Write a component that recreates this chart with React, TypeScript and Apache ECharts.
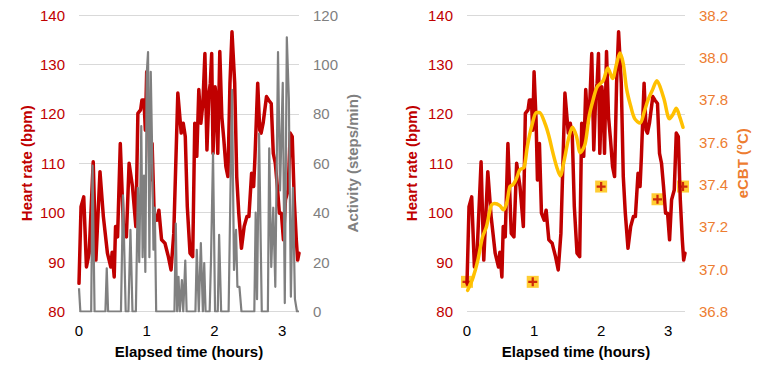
import React, { useEffect, useRef } from "react";
import * as echarts from "echarts";

// Heart rate (bpm) over elapsed time (hours)
const hrTime = [0, 0.03, 0.07, 0.11, 0.15, 0.21, 0.25, 0.31, 0.36, 0.42, 0.47, 0.49, 0.52, 0.54, 0.57, 0.61, 0.66, 0.70, 0.74, 0.79, 0.84, 0.87, 0.91, 0.93, 0.96, 0.98, 1.00, 1.03, 1.05, 1.08, 1.11, 1.15, 1.18, 1.22, 1.27, 1.32, 1.36, 1.40, 1.46, 1.51, 1.54, 1.57, 1.60, 1.64, 1.68, 1.71, 1.74, 1.77, 1.80, 1.83, 1.86, 1.89, 1.92, 1.94, 1.96, 1.98, 2.01, 2.03, 2.05, 2.08, 2.11, 2.14, 2.17, 2.20, 2.23, 2.26, 2.30, 2.33, 2.36, 2.40, 2.44, 2.48, 2.51, 2.55, 2.58, 2.60, 2.64, 2.67, 2.69, 2.72, 2.77, 2.80, 2.84, 2.87, 2.90, 2.93, 2.96, 2.99, 3.02, 3.05, 3.09, 3.12, 3.15, 3.18, 3.21, 3.23, 3.25];
const hrBpm = [85.7, 101.2, 103.2, 89, 91.8, 110.3, 90.4, 108.3, 99.2, 91.8, 89, 92, 87, 97.2, 95.1, 114, 95.8, 95.1, 110, 105.3, 97.2, 120.1, 120.8, 122.8, 122.8, 116.7, 128.5, 118.7, 106.6, 114, 99.9, 98.5, 100.5, 94.5, 93.8, 91.1, 88.4, 95.8, 124.2, 116.1, 118.1, 115.4, 101.2, 91.8, 91.1, 118.1, 111.4, 124.9, 118.1, 122.1, 132.2, 112.7, 124.2, 126.2, 132.2, 112, 125.5, 122.8, 112, 132.6, 119.4, 114.7, 109.3, 107.3, 126.2, 136.6, 126.2, 107.3, 99.9, 92.8, 97.2, 99.2, 99.2, 108, 105.3, 111.4, 126.2, 116.7, 116.1, 118.1, 123.5, 122.8, 122.1, 112, 110, 105.3, 99.9, 99.9, 94.5, 102.6, 104.6, 116.1, 115.4, 102.6, 94.5, 90.4, 91.8];

// Activity (steps/min)
const actTime = [0, 0.02, 0.18, 0.20, 0.23, 0.39, 0.41, 0.43, 0.62, 0.65, 0.69, 0.73, 0.76, 0.79, 0.84, 0.87, 0.89, 0.92, 0.94, 0.96, 0.98, 1.00, 1.02, 1.04, 1.06, 1.08, 1.10, 1.12, 1.14, 1.41, 1.43, 1.45, 1.47, 1.49, 1.52, 1.54, 1.57, 1.59, 1.72, 1.74, 1.77, 1.80, 1.83, 1.85, 1.87, 1.93, 1.95, 1.98, 2.01, 2.05, 2.07, 2.10, 2.21, 2.23, 2.26, 2.29, 2.32, 2.34, 2.37, 2.40, 2.59, 2.61, 2.63, 2.66, 2.70, 2.79, 2.81, 2.84, 2.87, 2.90, 2.94, 2.97, 3.01, 3.04, 3.07, 3.10, 3.13, 3.16, 3.19, 3.22, 3.25];
const actSteps = [9.4, 0, 0, 59, 0, 0, 17.5, 0, 0, 47, 0, 0, 33, 0, 0, 50, 20, 75, 22, 55, 16, 96, 105, 22, 97, 66, 25, 42, 0, 0, 35.6, 0, 14, 0, 12.7, 0, 20.6, 0, 0, 25, 0, 27.7, 0, 19.6, 0, 0, 21, 64, 0, 0, 31, 0, 0, 35.6, 89.7, 16.8, 33, 10, 10, 0, 0, 40, 5, 72, 0, 0, 66, 18, 42, 10, 105, 49, 92.5, 3.4, 111, 86, 6, 50, 5, 0, 0];

// Estimated core body temperature (°C)
const cbtTime = [0.01, 0.09, 0.16, 0.23, 0.29, 0.36, 0.41, 0.49, 0.54, 0.59, 0.64, 0.69, 0.74, 0.79, 0.85, 0.90, 0.96, 1.04, 1.08, 1.16, 1.22, 1.28, 1.34, 1.39, 1.44, 1.51, 1.57, 1.63, 1.69, 1.76, 1.82, 1.88, 1.94, 2.03, 2.10, 2.17, 2.23, 2.28, 2.33, 2.38, 2.44, 2.50, 2.58, 2.64, 2.70, 2.77, 2.83, 2.88, 2.94, 3.02, 3.07, 3.12, 3.17, 3.22];
const cbtTemp = [36.90, 36.96, 37.04, 37.15, 37.20, 37.30, 37.31, 37.30, 37.28, 37.31, 37.39, 37.40, 37.43, 37.47, 37.48, 37.58, 37.67, 37.74, 37.74, 37.69, 37.63, 37.55, 37.48, 37.44, 37.50, 37.61, 37.67, 37.63, 37.55, 37.59, 37.72, 37.80, 37.86, 37.89, 37.95, 37.90, 37.97, 38.02, 37.97, 37.85, 37.77, 37.71, 37.69, 37.74, 37.80, 37.85, 37.89, 37.86, 37.80, 37.71, 37.73, 37.76, 37.72, 37.67];

// Measured reference temperatures (°C)
const refTime = [0, 0.98, 2.0, 2.84, 3.22];
const refTemp = [36.94, 36.94, 37.39, 37.33, 37.39];

const zip = (xs: number[], ys: number[]) => xs.map((x, i) => [x, ys[i]]);

const RED = "#C00000";
const GRAY = "#808080";
const YELLOW = "#FFC000";
const ORANGE = "#ED7D31";
const GRID = "#D9D9D9";
const FONT = "Liberation Sans, Arial, sans-serif";
const PLUS = "path://M3,0H5V3H8V5H5V8H3V5H0V3H3Z";

const xAxisBase = (gridIndex: number) => ({
  type: "value" as const,
  gridIndex,
  min: 0,
  max: 3.25,
  interval: 1,
  name: "Elapsed time (hours)",
  nameLocation: "middle" as const,
  nameGap: 32,
  nameTextStyle: { fontFamily: FONT, fontSize: 15, fontWeight: "bold", color: "#000" },
  axisLine: { show: false },
  axisTick: { show: false },
  splitLine: { show: false },
  axisLabel: {
    fontFamily: FONT,
    fontSize: 15,
    color: "#000",
    margin: 11,
    showMaxLabel: false,
    formatter: (v: number) => (Number.isInteger(v) ? String(v) : ""),
  },
});

const hrAxis = (gridIndex: number, nameGap: number) => ({
  type: "value" as const,
  gridIndex,
  position: "left" as const,
  min: 80,
  max: 140,
  interval: 10,
  name: "Heart rate (bpm)",
  nameLocation: "middle" as const,
  nameGap,
  nameTextStyle: { fontFamily: FONT, fontSize: 15, fontWeight: "bold", color: RED },
  axisLine: { show: false },
  axisTick: { show: false },
  splitLine: { show: true, lineStyle: { color: GRID, width: 1 } },
  axisLabel: { fontFamily: FONT, fontSize: 15, color: RED, margin: 14 },
});

export default function App() {
  const ref = useRef<HTMLDivElement>(null);

  useEffect(() => {
    if (!ref.current) return;
    const chart = echarts.init(ref.current, undefined, { renderer: "svg" });
    chart.setOption({
      animation: false,
      backgroundColor: "#fff",
      grid: [
        { left: 79, top: 15, width: 220, height: 296.5 },
        { left: 467, top: 15, width: 218, height: 296.5 },
      ],
      xAxis: [xAxisBase(0), xAxisBase(1)],
      yAxis: [
        hrAxis(0, 45),
        {
          type: "value",
          gridIndex: 0,
          position: "right",
          min: 0,
          max: 120,
          interval: 20,
          name: "Activity (steps/min)",
          nameLocation: "middle",
          nameGap: 46,
          nameTextStyle: { fontFamily: FONT, fontSize: 15, fontWeight: "bold", color: GRAY },
          axisLine: { show: false },
          axisTick: { show: false },
          splitLine: { show: false },
          axisLabel: { fontFamily: FONT, fontSize: 15, color: GRAY, margin: 14 },
        },
        hrAxis(1, 48),
        {
          type: "value",
          gridIndex: 1,
          position: "right",
          min: 36.8,
          max: 38.2,
          interval: 0.2,
          name: "eCBT (°C)",
          nameLocation: "middle",
          nameGap: 50,
          nameTextStyle: { fontFamily: FONT, fontSize: 15, fontWeight: "bold", color: ORANGE },
          axisLine: { show: false },
          axisTick: { show: false },
          splitLine: { show: false },
          axisLabel: {
            fontFamily: FONT,
            fontSize: 15,
            color: ORANGE,
            margin: 14,
            formatter: (v: number) => v.toFixed(1),
          },
        },
      ],
      series: [
        {
          type: "line",
          xAxisIndex: 0,
          yAxisIndex: 0,
          data: zip(hrTime, hrBpm),
          showSymbol: false,
          lineStyle: { color: RED, width: 3.5, join: "round", cap: "round" },
        },
        {
          type: "line",
          xAxisIndex: 0,
          yAxisIndex: 1,
          data: zip(actTime, actSteps),
          showSymbol: false,
          lineStyle: { color: GRAY, width: 2.2, join: "round" },
        },
        {
          type: "line",
          xAxisIndex: 1,
          yAxisIndex: 2,
          data: zip(hrTime, hrBpm),
          showSymbol: false,
          lineStyle: { color: RED, width: 3.5, join: "round", cap: "round" },
        },
        {
          type: "line",
          xAxisIndex: 1,
          yAxisIndex: 3,
          data: zip(cbtTime, cbtTemp),
          showSymbol: false,
          smooth: 0.3,
          lineStyle: { color: YELLOW, width: 3.5, join: "round", cap: "round" },
        },
        {
          type: "scatter",
          xAxisIndex: 1,
          yAxisIndex: 3,
          data: zip(refTime, refTemp),
          symbol: "rect",
          symbolSize: 12,
          clip: false,
          itemStyle: { color: YELLOW },
        },
        {
          type: "scatter",
          xAxisIndex: 1,
          yAxisIndex: 3,
          data: zip(refTime, refTemp),
          symbol: PLUS,
          symbolSize: 9,
          clip: false,
          itemStyle: { color: RED },
        },
      ],
    });
    return () => chart.dispose();
  }, []);

  return (
    <div
      ref={ref}
      style={{ position: "fixed", left: 0, top: 0, width: 767, height: 377, background: "#fff" }}
    />
  );
}
